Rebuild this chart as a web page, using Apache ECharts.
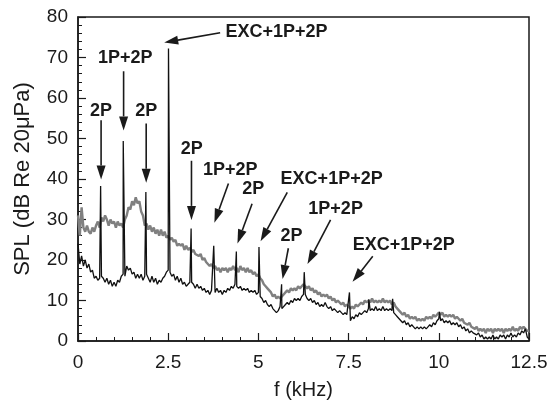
<!DOCTYPE html>
<html>
<head>
<meta charset="utf-8">
<script src="https://cdn.jsdelivr.net/npm/echarts@6/dist/echarts.min.js"></script>
<style>
html, body { margin: 0; padding: 0; background: #fff; }
#chart { width: 551px; height: 405px; }
</style>
</head>
<body>
<div id="chart"></div>
<script>
// spectra sampled every 0.05 kHz, from 0 to 12.5 kHz
let sampleStep = 0.05

let graySpl = [
    31, 26, 33, 28, 27, 28.5, 27, 26.5, 28, 27,
    28.5, 29.5, 28, 30.5, 29.5, 31, 30, 28.5, 30, 29,
    29.5, 28, 29.5, 28.5, 29, 28, 30, 31, 33, 32.5,
    34.5, 33.5, 35.5, 34, 34.5, 32, 31, 28.5, 29, 27.5,
    28.5, 27, 28, 26.5, 27.5, 26, 27.5, 26, 27, 25.5,
    26, 25, 25.5, 24.5, 25, 23.5, 24, 23.5, 24, 22.5,
    23.5, 22.5, 23, 22, 22.5, 21.5, 21.5, 21, 21.5, 20,
    20.5, 19.5, 19.5, 18.5, 19, 18, 18.5, 17.5, 18, 17,
    18, 17.5, 18, 17, 18, 17.5, 18.5, 17.5, 18, 17,
    18.5, 17.5, 18, 17, 18, 17, 17.5, 16.5, 17, 16,
    16.5, 15.5, 15, 14, 13.5, 13, 12.5, 12, 11, 11.5,
    10.5, 11, 10.5, 11, 11.5, 12, 12.5, 12, 13, 12.5,
    13, 12.5, 13.5, 13, 13.5, 14, 13.5, 13, 13.5, 12.5,
    13, 12, 12.5, 11.5, 12, 11, 11.5, 11, 11.5, 10.5,
    11, 10, 10.5, 9.5, 10, 9.5, 9, 9.5, 8.5, 9,
    8.5, 8, 8.5, 8, 9, 8.5, 9, 9.5, 9, 10,
    9.5, 10, 9.5, 10.5, 9.5, 10, 9.5, 10, 9.5, 10.5,
    9.5, 10, 9.5, 10, 9, 9.5, 8.5, 8, 7.5, 7,
    6.5, 7, 6, 6.5, 5.5, 6, 5.5, 6, 5, 5.5,
    5, 5.5, 5, 6, 5.5, 6, 5.5, 6.5, 6, 6.5,
    7, 6.5, 7, 6, 6.5, 6, 6.5, 6, 6.5, 5.5,
    6, 5.5, 5, 5.5, 4.5, 4.5, 4, 4.5, 3.5, 3.5,
    3, 3.5, 2.5, 3, 2.5, 3, 2, 3, 2.5, 3,
    2, 3, 2.5, 3, 2.5, 3, 2, 3, 2.5, 3,
    2.5, 3.5, 2.5, 3, 2.5, 3.5, 3, 3.5, 3, 2.5,
    2.5
]

let blackSpl = [
    24, 19, 21, 18.5, 20, 18, 19, 17, 17.5, 15.5,
    16, 15, 15.5, 16, 15.5, 14.5, 15.5, 14, 15, 13.5,
    14.5, 13.5, 15, 14.5, 16, 16.5, 16, 18.5, 17.5, 18,
    16.5, 17, 15.5, 16.5, 15.5, 16.5, 15, 16, 16.5, 15.5,
    14.5, 16, 14.5, 15.5, 14, 15, 14.5, 15.5, 16, 17,
    17.5, 17, 16, 16.5, 15, 16, 14.5, 15.5, 14, 14.5,
    13.5, 14, 14.5, 14.5, 14, 13, 14, 13, 13.5, 12.5,
    13, 12, 12.5, 11.5, 12.5, 12.5, 12, 13, 12, 12.5,
    11.5, 12.5, 12, 13, 12.5, 13.5, 13, 14, 13.5, 13,
    13.5, 12.5, 13, 12.5, 13, 12, 12.5, 12, 12.5, 11.5,
    12, 11, 10.5, 9.5, 10, 9, 8.5, 9, 8, 7.5,
    7, 7.5, 8.5, 8, 8, 9, 9.5, 9, 10, 9.5,
    10.5, 10, 10.5, 10, 11, 11.5, 11.5, 10.5, 10, 10.5,
    9.5, 10, 9, 9.5, 8.5, 9, 8.5, 9.5, 8.5, 8,
    8.5, 7.5, 8, 7.5, 7, 7.5, 7, 6.5, 7, 6.5,
    6.5, 5, 6, 5.5, 6.5, 6, 7, 6.5, 7, 7.5,
    7, 8, 7.5, 8, 7.5, 8.5, 7.5, 8, 7.5, 8.5,
    7.5, 8, 7.5, 8, 7.5, 7, 6.5, 6, 5.5, 5,
    4.5, 5, 4, 4.5, 3.5, 4, 3.5, 3, 3.5, 3,
    3.5, 3, 3.5, 3, 3.5, 4, 3.5, 4.5, 4, 5,
    5.5, 5, 5.5, 4.5, 5, 4.5, 5, 4, 4.5, 4,
    4.5, 3.5, 4, 3, 3.5, 2.5, 3, 2, 2.5, 2,
    2, 1.5, 2, 1, 1.5, 0.5, 1, 0.5, 1, 0.5,
    1.5, 0.5, 1, 0.5, 1.5, 1, 1.5, 0.5, 1.5, 1,
    2, 1, 1.5, 1, 2, 1.5, 2.5, 2, 3, 1,
    0.5
]

// tonal peaks of the black spectrum [kHz, dB]
let blackPeaks = [
    [0.627, 38.3], [1.254, 49.4], [1.881, 36.8], [2.508, 72.2],
    [3.135, 27.8], [3.762, 23.5], [4.389, 22.1], [5.016, 23.2],
    [5.643, 14], [6.27, 17], [7.524, 12], [8.06, 10.3],
    [8.72, 10.4], [10.02, 7.2]
]

// label centre, arrow start, arrow tip, all in [kHz, dB]
let notes = [
    { text: 'EXC+1P+2P', at: [5.5, 76.4], from: [3.94, 76.1], to: [2.39, 73.7] },
    { text: '1P+2P', at: [1.31, 69.8], from: [1.264, 66.6], to: [1.264, 52.0] },
    { text: '2P', at: [0.64, 56.9], from: [0.64, 54.5], to: [0.64, 39.9] },
    { text: '2P', at: [1.89, 56.7], from: [1.89, 53.7], to: [1.89, 39.1] },
    { text: '2P', at: [3.15, 47.4], from: [3.145, 44.5], to: [3.145, 29.9] },
    { text: '1P+2P', at: [4.22, 42.1], from: [4.17, 38.9], to: [3.78, 29.2] },
    { text: '2P', at: [4.86, 37.4], from: [4.825, 33.9], to: [4.42, 24.1] },
    { text: 'EXC+1P+2P', at: [7.03, 39.9], from: [5.8, 36.7], to: [5.06, 24.6] },
    { text: '2P', at: [5.92, 25.8], from: [5.83, 22.9], to: [5.67, 15.3] },
    { text: '1P+2P', at: [7.14, 32.6], from: [7.0, 29.9], to: [6.36, 19.0] },
    { text: 'EXC+1P+2P', at: [9.03, 23.8], from: [8.17, 20.9], to: [7.61, 14.6] }
]

let grayData = graySpl.map((v, i) => [+(i * sampleStep).toFixed(2), v])
let blackData = blackSpl.map((v, i) => [+(i * sampleStep).toFixed(2), v])
    .concat(blackPeaks)
    .sort((a, b) => a[0] - b[0])

let font = '"Liberation Sans", Arial, sans-serif'
let ink = '#1a1a1a'

let axisCommon = {
    axisLine: { show: true, lineStyle: { color: ink, width: 1.5 } },
    axisTick: { show: true, inside: true, length: 8, lineStyle: { color: ink, width: 1.2 } },
    minorTick: { show: true, splitNumber: 5, length: 4, lineStyle: { color: ink, width: 1 } },
    splitLine: { show: false },
    axisLabel: { color: ink, fontSize: 19, fontFamily: font },
    nameLocation: 'middle',
    nameTextStyle: { color: ink, fontSize: 20, fontFamily: font }
}

let chart = echarts.init(document.getElementById('chart'))
chart.setOption({
    animation: false,
    backgroundColor: '#fff',
    grid: { left: 78, right: 22, top: 17, bottom: 59, show: true, borderColor: ink, borderWidth: 1.5 },
    xAxis: Object.assign({}, axisCommon, {
        type: 'value', min: 0, max: 12.5, interval: 2.5,
        name: 'f (kHz)', nameGap: 39,
        axisLabel: Object.assign({}, axisCommon.axisLabel, { margin: 12 })
    }),
    yAxis: Object.assign({}, axisCommon, {
        type: 'value', min: 0, max: 80, interval: 10,
        name: 'SPL (dB Re 20μPa)', nameGap: 44,
        nameTextStyle: Object.assign({}, axisCommon.nameTextStyle, { fontSize: 22 }),
        axisLabel: Object.assign({}, axisCommon.axisLabel, { margin: 10 })
    }),
    series: [
        {
            type: 'line', data: grayData, showSymbol: false,
            lineStyle: { color: '#808080', width: 2.4 }
        },
        {
            type: 'line', data: blackData, showSymbol: false,
            lineStyle: { color: '#111', width: 1.3 }
        }
    ]
})

// arrows and labels, placed through the chart's own scales
let graphics = []
notes.forEach(n => {
    let p = chart.convertToPixel({ gridIndex: 0 }, n.at)
    let a = chart.convertToPixel({ gridIndex: 0 }, n.from)
    let b = chart.convertToPixel({ gridIndex: 0 }, n.to)
    let dx = b[0] - a[0], dy = b[1] - a[1]
    let len = Math.sqrt(dx * dx + dy * dy)
    let ux = dx / len, uy = dy / len
    let head = 14, half = 4.5
    let bx = b[0] - ux * head, by = b[1] - uy * head
    graphics.push({
        type: 'line', z: 10,
        shape: { x1: a[0], y1: a[1], x2: bx, y2: by },
        style: { stroke: ink, lineWidth: 1.6 }
    })
    graphics.push({
        type: 'polygon', z: 10,
        shape: { points: [b, [bx - uy * half, by + ux * half], [bx + uy * half, by - ux * half]] },
        style: { fill: ink }
    })
    graphics.push({
        type: 'text', z: 10, x: p[0], y: p[1],
        style: {
            text: n.text, fill: ink, font: 'bold 18px ' + font,
            align: 'center', verticalAlign: 'middle'
        }
    })
})
chart.setOption({ graphic: graphics })
</script>
</body>
</html>
